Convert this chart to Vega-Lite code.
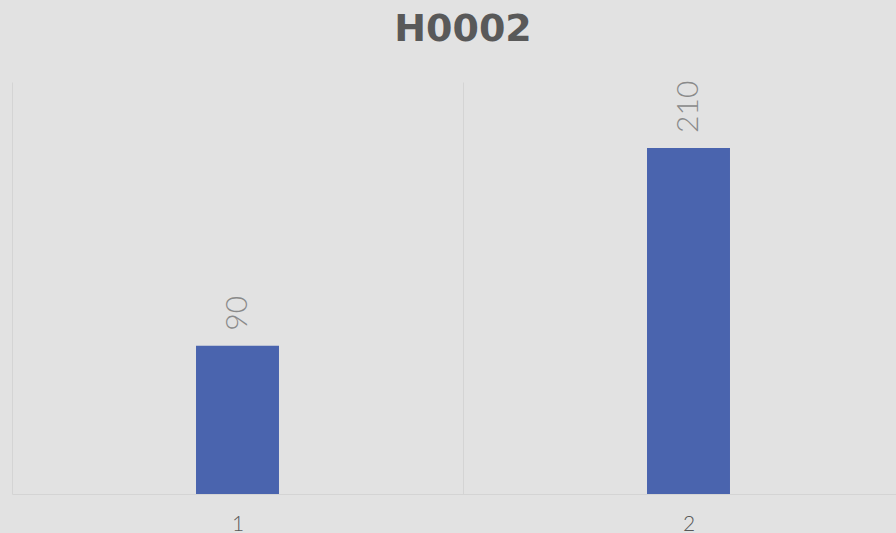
{
  "$schema": "https://vega.github.io/schema/vega-lite/v6.json",
  "autosize": "none",
  "width": 902,
  "height": 412,
  "padding": {"left": 12, "top": 82, "right": 0, "bottom": 39},
  "background": "#e2e2e2",
  "title": {
    "text": "H0002",
    "font": "DejaVu Sans",
    "fontSize": 38,
    "fontWeight": "bold",
    "color": "#595959",
    "anchor": "middle",
    "offset": 32
  },
  "config": {"view": {"stroke": null}},
  "data": {"values": [{"x": "1", "v": 90}, {"x": "2", "v": 210}]},
  "encoding": {
    "x": {
      "field": "x", "type": "nominal",
      "scale": {"paddingInner": 0, "paddingOuter": 0},
      "axis": {
        "title": null, "labelAngle": 0, "ticks": false,
        "tickBand": "extent", "grid": true, "gridColor": "#d4d4d4", "gridWidth": 1,
        "domainColor": "#d4d4d4", "labelFont": "Lato", "labelFontSize": 21, "labelFontWeight": 300,
        "labelColor": "#595959", "labelPadding": 19
      }
    },
    "y": {
      "field": "v", "type": "quantitative",
      "scale": {"domain": [0, 250]},
      "axis": null
    }
  },
  "layer": [
    {"mark": {"type": "bar", "color": "#4a64ae", "width": {"band": 0.184}}},
    {
      "mark": {"type": "text", "angle": -90, "align": "left", "baseline": "middle", "dx": 15,
        "font": "Lato", "fontWeight": 300, "fontSize": 30, "color": "#8a8a8a"},
      "encoding": {"text": {"field": "v"}}
    }
  ]
}
